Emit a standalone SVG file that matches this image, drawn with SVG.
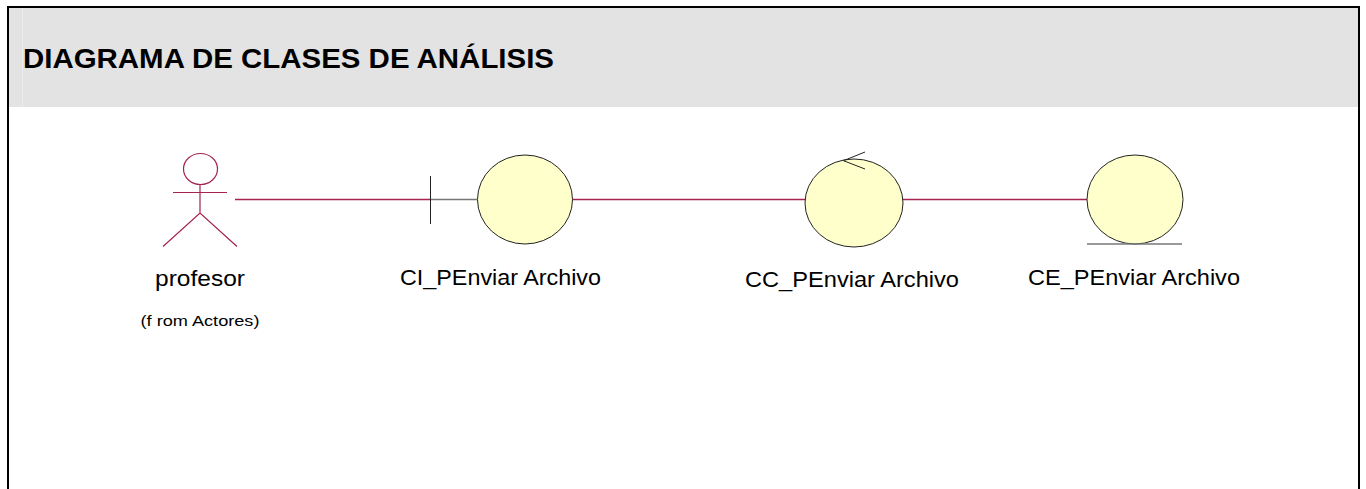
<svg xmlns="http://www.w3.org/2000/svg" width="1366" height="489" viewBox="0 0 1366 489">
<style>
text{font-family:"Liberation Sans",Arial,sans-serif;fill:#000}
.lbl{font-size:21.500px}
.a{stroke:#a5234d;stroke-width:1.2;fill:none}
.c{stroke:#a5234d;stroke-width:1.500;fill:none}
.b{fill:#ffffcb;stroke:#222;stroke-width:1}
.k{stroke:#222;stroke-width:1;fill:none}
.g{stroke:#777;stroke-width:1.500;fill:none}
</style>
<rect width="1366" height="489" fill="#fff"/>
<g id="header">
<rect x="8" y="8" width="1350" height="99" fill="#e3e3e3"/>
<rect x="22" y="8" width="1" height="99" fill="#ececec"/>
<text x="23" y="68" font-size="27.500" font-weight="700" textLength="531" lengthAdjust="spacingAndGlyphs">DIAGRAMA DE CLASES DE ANÁLISIS</text>
</g>
<path id="frame" d="M8 489V7H1359V489" fill="none" stroke="#000" stroke-width="2"/>
<g id="connectors">
<path class="c" d="M235 199.500H430"/>
<path class="g" d="M431 199.500H477"/>
<path class="c" d="M572 199.500H805"/>
<path class="c" d="M903 199.500H1087"/>
</g>
<g id="profesor">
<ellipse class="a" cx="200.500" cy="169" rx="17" ry="15.500"/>
<path class="a" d="M173 192.500H227M200 184V213M163 246.500L200 213L237 246.500"/>
<text class="lbl" x="200" y="286" text-anchor="middle" textLength="90" lengthAdjust="spacingAndGlyphs">profesor</text>
<text x="200" y="325.500" font-size="15" text-anchor="middle" textLength="119" lengthAdjust="spacingAndGlyphs">(f rom Actores)</text>
</g>
<g id="boundary">
<path class="k" d="M430.500 176V224"/>
<ellipse class="b" cx="525" cy="199.500" rx="47.500" ry="44.500"/>
<text class="lbl" x="500.500" y="284.500" text-anchor="middle" textLength="201" lengthAdjust="spacingAndGlyphs">CI_PEnviar Archivo</text>
</g>
<g id="control">
<ellipse class="b" cx="854" cy="203" rx="49" ry="44"/>
<path class="k" d="M865 152L843.500 160.700L865 169"/>
<text class="lbl" x="852" y="287" text-anchor="middle" textLength="214" lengthAdjust="spacingAndGlyphs">CC_PEnviar Archivo</text>
</g>
<g id="entity">
<ellipse class="b" cx="1135" cy="199.500" rx="48" ry="44.500"/>
<path class="g" d="M1087 244H1182"/>
<text class="lbl" x="1134" y="284.500" text-anchor="middle" textLength="212" lengthAdjust="spacingAndGlyphs">CE_PEnviar Archivo</text>
</g>
</svg>
